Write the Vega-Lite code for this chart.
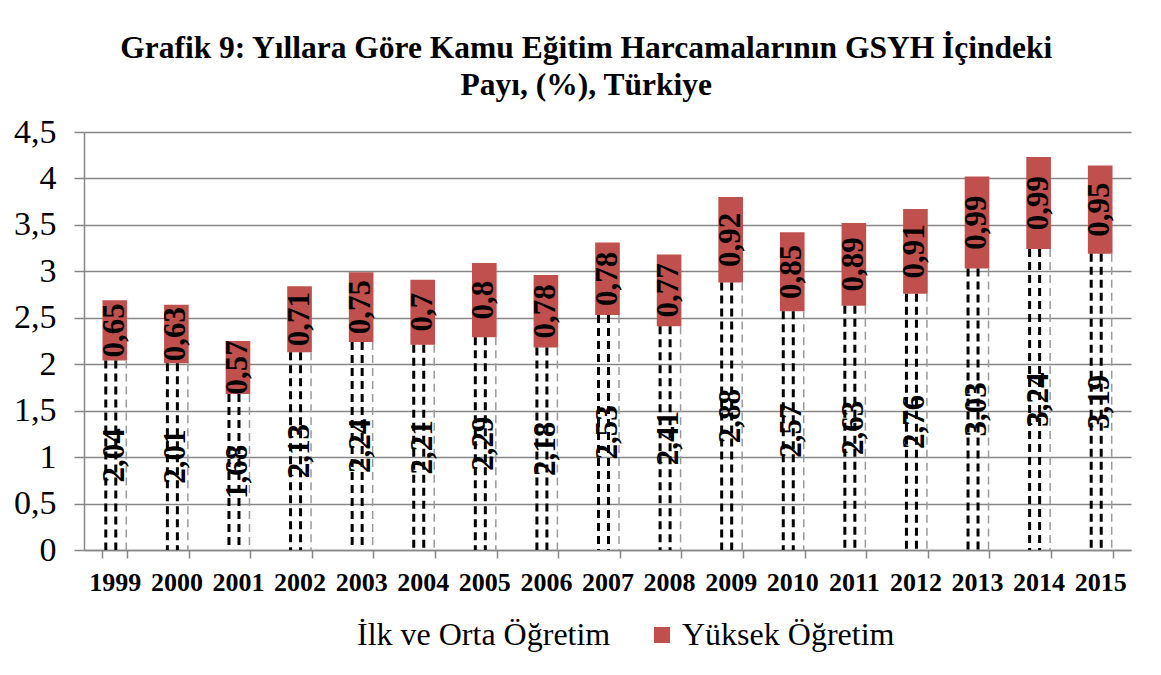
{
  "$schema": "https://vega.github.io/schema/vega-lite/v6.json",
  "autosize": {"type": "fit", "contains": "padding"},
  "width": 1161,
  "height": 675,
  "padding": {"left": 13, "right": 30, "top": 32, "bottom": 24},
  "background": "white",
  "config": {
    "locale": {"number": {"decimal": ",", "thousands": ".", "grouping": [3], "currency": ["", ""]}},
    "font": "Liberation Serif",
    "view": {"stroke": null},
    "legend": {"layout": {"bottom": {"anchor": "middle"}}}
  },
  "title": {
    "text": ["Grafik 9: Yıllara Göre Kamu Eğitim Harcamalarının GSYH İçindeki", "Payı, (%), Türkiye"],
    "font": "Liberation Serif",
    "fontSize": 31.5,
    "fontWeight": "bold",
    "color": "black",
    "anchor": "middle",
    "frame": "bounds",
    "dx": 14,
    "lineHeight": 37,
    "offset": 14
  },
  "data": {
    "values": [
      {"yil": "1999", "seri": "İlk ve Orta Öğretim", "deger": 2.04},
      {"yil": "1999", "seri": "Yüksek Öğretim", "deger": 0.65},
      {"yil": "2000", "seri": "İlk ve Orta Öğretim", "deger": 2.01},
      {"yil": "2000", "seri": "Yüksek Öğretim", "deger": 0.63},
      {"yil": "2001", "seri": "İlk ve Orta Öğretim", "deger": 1.68},
      {"yil": "2001", "seri": "Yüksek Öğretim", "deger": 0.57},
      {"yil": "2002", "seri": "İlk ve Orta Öğretim", "deger": 2.13},
      {"yil": "2002", "seri": "Yüksek Öğretim", "deger": 0.71},
      {"yil": "2003", "seri": "İlk ve Orta Öğretim", "deger": 2.24},
      {"yil": "2003", "seri": "Yüksek Öğretim", "deger": 0.75},
      {"yil": "2004", "seri": "İlk ve Orta Öğretim", "deger": 2.21},
      {"yil": "2004", "seri": "Yüksek Öğretim", "deger": 0.7},
      {"yil": "2005", "seri": "İlk ve Orta Öğretim", "deger": 2.29},
      {"yil": "2005", "seri": "Yüksek Öğretim", "deger": 0.8},
      {"yil": "2006", "seri": "İlk ve Orta Öğretim", "deger": 2.18},
      {"yil": "2006", "seri": "Yüksek Öğretim", "deger": 0.78},
      {"yil": "2007", "seri": "İlk ve Orta Öğretim", "deger": 2.53},
      {"yil": "2007", "seri": "Yüksek Öğretim", "deger": 0.78},
      {"yil": "2008", "seri": "İlk ve Orta Öğretim", "deger": 2.41},
      {"yil": "2008", "seri": "Yüksek Öğretim", "deger": 0.77},
      {"yil": "2009", "seri": "İlk ve Orta Öğretim", "deger": 2.88},
      {"yil": "2009", "seri": "Yüksek Öğretim", "deger": 0.92},
      {"yil": "2010", "seri": "İlk ve Orta Öğretim", "deger": 2.57},
      {"yil": "2010", "seri": "Yüksek Öğretim", "deger": 0.85},
      {"yil": "2011", "seri": "İlk ve Orta Öğretim", "deger": 2.63},
      {"yil": "2011", "seri": "Yüksek Öğretim", "deger": 0.89},
      {"yil": "2012", "seri": "İlk ve Orta Öğretim", "deger": 2.76},
      {"yil": "2012", "seri": "Yüksek Öğretim", "deger": 0.91},
      {"yil": "2013", "seri": "İlk ve Orta Öğretim", "deger": 3.03},
      {"yil": "2013", "seri": "Yüksek Öğretim", "deger": 0.99},
      {"yil": "2014", "seri": "İlk ve Orta Öğretim", "deger": 3.24},
      {"yil": "2014", "seri": "Yüksek Öğretim", "deger": 0.99},
      {"yil": "2015", "seri": "İlk ve Orta Öğretim", "deger": 3.19},
      {"yil": "2015", "seri": "Yüksek Öğretim", "deger": 0.95}
    ]
  },
  "encoding": {
    "x": {
      "field": "yil",
      "type": "ordinal",
      "title": null,
      "scale": {"paddingInner": 0.6, "paddingOuter": 0.3},
      "axis": {
        "labelAngle": 0,
        "labelFont": "Liberation Serif",
        "labelFontSize": 26,
        "labelFontWeight": "bold",
        "labelColor": "black",
        "labelPadding": 11,
        "tickBand": "extent",
        "tickColor": "#868686",
        "tickSize": 8,
        "tickWidth": 1.5,
        "domainColor": "#868686",
        "domainWidth": 1.5
      }
    }
  },
  "layer": [
    {
      "mark": {"type": "bar"},
      "encoding": {
        "y": {
          "field": "deger",
          "type": "quantitative",
          "stack": "zero",
          "title": null,
          "scale": {"domain": [0, 4.5], "nice": false},
          "axis": {
            "values": [0, 0.5, 1, 1.5, 2, 2.5, 3, 3.5, 4, 4.5],
            "format": "~r",
            "labelFont": "Liberation Serif",
            "labelFontSize": 34,
            "labelColor": "black",
            "labelPadding": 18,
            "tickColor": "#868686",
            "tickSize": 10,
            "tickWidth": 1.5,
            "domainColor": "#868686",
            "domainWidth": 1.5,
            "gridColor": "#868686",
            "gridWidth": 1.5
          }
        },
        "color": {
          "field": "seri",
          "type": "nominal",
          "scale": {"domain": ["İlk ve Orta Öğretim", "Yüksek Öğretim"], "range": ["rgba(0,0,0,0)", "#C0504D"]},
          "legend": {
            "orient": "bottom",
            "direction": "horizontal",
            "title": null,
            "labelFont": "Liberation Serif",
            "labelFontSize": 32,
            "labelColor": "black",
            "symbolType": "square",
            "symbolSize": 260,
            "symbolStrokeWidth": 0,
            "columnPadding": 35,
            "offset": 24,
            "labelLimit": 400
          }
        },
        "order": {"field": "seri", "sort": "descending"}
      }
    },
    {
      "transform": [{"filter": "datum.seri === 'İlk ve Orta Öğretim'"}],
      "mark": {"type": "rule", "color": "black", "strokeWidth": 3, "strokeDash": [8, 5], "xOffset": -9},
      "encoding": {"y": {"field": "deger", "type": "quantitative"}, "y2": {"datum": 0}}
    },
    {
      "transform": [{"filter": "datum.seri === 'İlk ve Orta Öğretim'"}],
      "mark": {"type": "rule", "color": "black", "strokeWidth": 3, "strokeDash": [8, 5], "xOffset": 1},
      "encoding": {"y": {"field": "deger", "type": "quantitative"}, "y2": {"datum": 0}}
    },
    {
      "transform": [{"filter": "datum.seri === 'İlk ve Orta Öğretim'"}],
      "mark": {"type": "rule", "color": "#9a9a9a", "strokeWidth": 1.5, "strokeDash": [8, 5], "xOffset": 11.5},
      "encoding": {"y": {"field": "deger", "type": "quantitative"}, "y2": {"datum": 0}}
    },
    {
      "transform": [
        {"stack": "deger", "groupby": ["yil"], "sort": [{"field": "seri", "order": "descending"}], "as": ["y0", "y1"]},
        {"calculate": "(datum.y0 + datum.y1) / 2", "as": "orta"}
      ],
      "mark": {"type": "text", "angle": 270, "align": "center", "baseline": "middle", "font": "Liberation Serif", "fontSize": 31, "fontWeight": "bold", "color": "black"},
      "encoding": {
        "y": {"field": "orta", "type": "quantitative"},
        "text": {"field": "deger", "type": "quantitative", "format": "~r"}
      }
    }
  ]
}
